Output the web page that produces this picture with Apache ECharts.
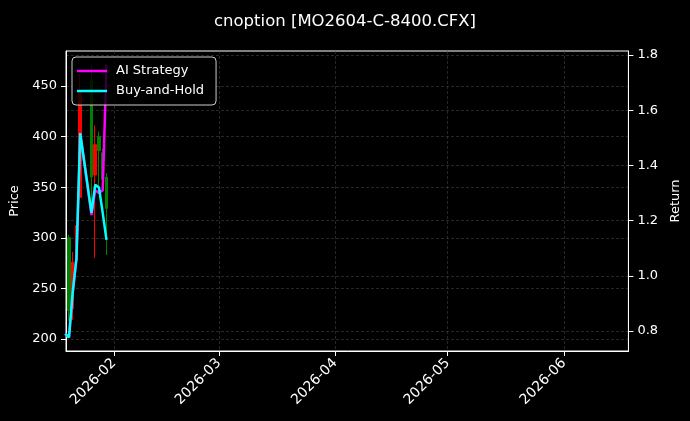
<!DOCTYPE html>
<html>
<head>
<meta charset="utf-8">
<script src="https://cdn.jsdelivr.net/npm/echarts@6/dist/echarts.min.js"></script>
<style>
  html, body { margin: 0; padding: 0; background: #000; }
  #main { width: 690px; height: 421px; }
</style>
</head>
<body>
<div id="main"></div>
<script>
// 日期 / K线 (open, close, low, high) — 1/19 那根在坐标轴左边, 图里看不到
var candleDates = ['2026-01-20', '2026-01-21', '2026-01-22', '2026-01-23',
  '2026-01-26', '2026-01-27', '2026-01-28', '2026-01-29', '2026-01-30']
var openPx = [300, 230, 278, 340, 455, 362, 400, 384, 360]
var closePx = [228, 276, 312, 445, 360, 392, 386, 358, 329]
var lowPx = [218, 219, 272, 338, 324, 280, 344, 352, 283]
var highPx = [303, 286, 316, 462, 471, 411, 405, 388, 364]
// 收益曲线
var returnDates = ['2026-01-19', '2026-01-20', '2026-01-21', '2026-01-22', '2026-01-23',
  '2026-01-26', '2026-01-27', '2026-01-28', '2026-01-29', '2026-01-30']
var aiStrategy = [0.79, 0.777, 0.94, 1.064, 1.517, 1.22, 1.31, 1.30, 1.31, 1.765]
var buyHold = [0.79, 0.777, 0.94, 1.064, 1.517, 1.228, 1.33, 1.32, 1.228, 1.13]
// 刻度
var monthTicks = ['2026-02', '2026-03', '2026-04', '2026-05', '2026-06']
var priceTicks = [200, 250, 300, 350, 400, 450]
var returnTicks = [0.8, 1.0, 1.2, 1.4, 1.6, 1.8]

function ts(s) {
  let p = s.split('-').map(Number)
  return new Date(p[0], p[1] - 1, p[2] || 1).getTime()
}

var DAY = 24 * 3600 * 1000
var xMin = ts('2026-01-19') + 5 * 3600 * 1000
var xMax = xMin + 150 * DAY
var monthValues = monthTicks.map(ts)

var kData = candleDates.map((d, i) => [ts(d), openPx[i], closePx[i], lowPx[i], highPx[i]])
var aiData = returnDates.map((d, i) => [ts(d), aiStrategy[i]])
var bhData = returnDates.map((d, i) => [ts(d), buyHold[i]])

var font = 'DejaVu Sans'
var gridLine = {
  show: true,
  lineStyle: { color: '#424242', width: 0.6, type: [3, 2] }
}

var option = {
  backgroundColor: '#000',
  animation: false,
  textStyle: { fontFamily: font },
  title: {
    text: 'cnoption [MO2604-C-8400.CFX]',
    left: 'center',
    top: 8,
    textStyle: { color: '#fff', fontSize: 16.5, fontWeight: 'normal', fontFamily: font }
  },
  grid: {
    left: 66, right: 60, top: 51, bottom: 70,
    show: true, borderColor: '#fff', borderWidth: 1, backgroundColor: 'transparent'
  },
  legend: {
    data: ['AI Strategy', 'Buy-and-Hold'],
    orient: 'vertical',
    left: 72,
    top: 57,
    padding: [7, 12, 7, 5],
    itemGap: 6,
    itemWidth: 30,
    itemHeight: 2.5,
    icon: 'rect',
    backgroundColor: 'rgba(0,0,0,0.8)',
    borderColor: '#ccc',
    borderWidth: 1,
    borderRadius: 4,
    textStyle: { color: '#fff', fontSize: 13, fontFamily: font, lineHeight: 14, padding: [0, 0, 0, 4] }
  },
  xAxis: {
    type: 'value',
    min: xMin,
    max: xMax,
    axisLine: { show: true, lineStyle: { color: '#fff' } },
    axisTick: { show: true, customValues: monthValues, length: 5, lineStyle: { color: '#fff' } },
    axisLabel: {
      customValues: monthValues,
      rotate: 45,
      margin: 10,
      color: '#fff',
      fontSize: 14,
      fontFamily: font,
      formatter: function (v) {
        let d = new Date(v)
        let m = d.getMonth() + 1
        return d.getFullYear() + '-' + (m < 10 ? '0' + m : m)
      }
    },
    splitLine: gridLine
  },
  yAxis: [{
    type: 'value',
    position: 'left',
    min: 188.1,
    max: 484.6,
    name: 'Price',
    nameLocation: 'middle',
    nameGap: 40,
    nameTextStyle: { color: '#fff', fontSize: 13, fontFamily: font },
    axisLine: { show: true, lineStyle: { color: '#fff' } },
    axisTick: { show: true, customValues: priceTicks, length: 5, lineStyle: { color: '#fff' } },
    axisLabel: { customValues: priceTicks, color: '#fff', fontSize: 13, fontFamily: font, margin: 9 },
    splitLine: gridLine
  }, {
    type: 'value',
    position: 'right',
    min: 0.7275,
    max: 1.8145,
    name: 'Return',
    nameLocation: 'middle',
    nameGap: 35,
    nameTextStyle: { color: '#fff', fontSize: 13, fontFamily: font },
    axisLine: { show: true, lineStyle: { color: '#fff' } },
    axisTick: { show: true, customValues: returnTicks, length: 5, lineStyle: { color: '#fff' } },
    axisLabel: {
      customValues: returnTicks, color: '#fff', fontSize: 13, fontFamily: font, margin: 9,
      formatter: v => v.toFixed(1)
    },
    splitLine: gridLine
  }],
  series: [{
    name: 'K',
    type: 'candlestick',
    data: kData,
    barWidth: 3,
    clip: true,
    itemStyle: {
      color: '#ff0000', borderColor: '#ff0000',
      color0: '#008000', borderColor0: '#008000',
      borderWidth: 1
    }
  }, {
    name: 'AI Strategy',
    type: 'line',
    yAxisIndex: 1,
    data: aiData,
    symbol: 'none',
    clip: true,
    lineStyle: { color: '#ff00ff', width: 2.5 },
    itemStyle: { color: '#ff00ff' }
  }, {
    name: 'Buy-and-Hold',
    type: 'line',
    yAxisIndex: 1,
    data: bhData,
    symbol: 'none',
    clip: true,
    lineStyle: { color: '#00ffff', width: 2.5 },
    itemStyle: { color: '#00ffff' }
  }]
}

echarts.init(document.getElementById('main')).setOption(option)
</script>
</body>
</html>
